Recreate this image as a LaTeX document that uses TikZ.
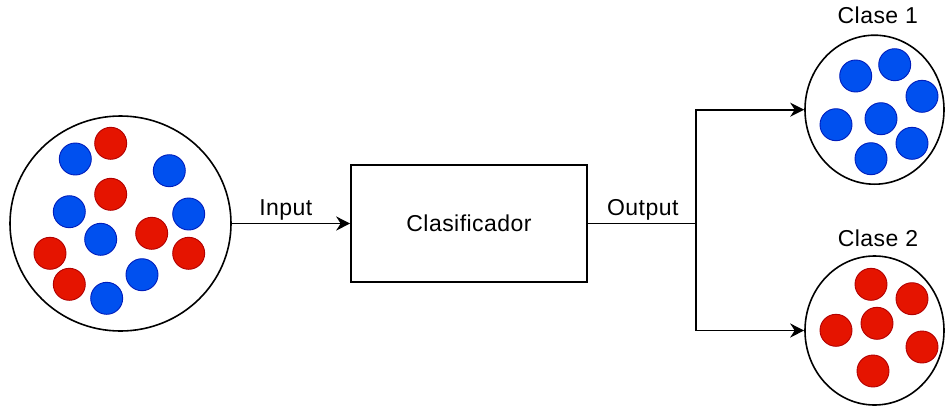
\documentclass[tikz,border=0pt]{standalone}
\usepackage{fontspec}
\setmainfont{Liberation Sans}[LetterSpace=2]
\usetikzlibrary{shapes.geometric,arrows.meta}

\definecolor{redfill}{HTML}{E51400}
\definecolor{redline}{HTML}{B20000}
\definecolor{bluefill}{HTML}{0050EF}
\definecolor{blueline}{HTML}{001DBC}

\begin{document}
\begin{tikzpicture}[x=1pt,y=-1pt,
  font=\fontsize{23}{27}\selectfont,
  pool/.style={draw=black,line width=1.6pt,ellipse,inner sep=0pt,fill=white},
  reddot/.style={circle,inner sep=0pt,minimum size=32pt,fill=redfill,draw=redline,line width=0.9pt},
  bluedot/.style={circle,inner sep=0pt,minimum size=32pt,fill=bluefill,draw=blueline,line width=0.9pt},
  stepbox/.style={draw=black,line width=1.6pt,rectangle,inner sep=0pt,minimum width=236pt,minimum height=117pt},
  link/.style={draw=black,line width=1.6pt},
  arrowlink/.style={link,-{Stealth[length=14pt,width=14pt,inset=4.5pt]}},
  lbl/.style={anchor=base,inner sep=0pt}
]
\useasboundingbox (0,0) rectangle (946,405);

% mixed input set
\node[pool,minimum width=221pt,minimum height=215pt] (pool) at (120.5,223.5) {};
\node[reddot]  (r1) at (110.7,143.3) {};
\node[reddot]  (r2) at (110.7,194.3) {};
\node[reddot]  (r3) at (151.7,233.3) {};
\node[reddot]  (r4) at (188.7,253.3) {};
\node[reddot]  (r5) at (50.0,253.3) {};
\node[reddot]  (r6) at (69.3,284.3) {};
\node[bluedot] (b1) at (75.3,159.0) {};
\node[bluedot] (b2) at (169.3,170.7) {};
\node[bluedot] (b3) at (69.3,211.7) {};
\node[bluedot] (b4) at (188.7,214.0) {};
\node[bluedot] (b5) at (100.7,239.3) {};
\node[bluedot] (b6) at (142.0,274.7) {};
\node[bluedot] (b7) at (106.7,298.3) {};

% classifier
\node[stepbox] (clf) at (469,223.5) {Clasificador};

% class 1
\node[pool,minimum width=139pt,minimum height=149pt] (c1) at (874.5,109.7) {};
\node[bluedot] (c1a) at (855.7,76.0) {};
\node[bluedot] (c1b) at (894.7,64.7) {};
\node[bluedot] (c1c) at (922.0,96.3) {};
\node[bluedot] (c1d) at (836.0,124.7) {};
\node[bluedot] (c1e) at (881.0,118.7) {};
\node[bluedot] (c1f) at (912.0,143.3) {};
\node[bluedot] (c1g) at (871.0,158.7) {};
\node[lbl] (t1) at (877.8,23.3) {Clase 1};

% class 2
\node[pool,minimum width=139pt,minimum height=149pt] (c2) at (874.5,330.5) {};
\node[reddot] (c2a) at (871.0,284.3) {};
\node[reddot] (c2b) at (912.0,298.7) {};
\node[reddot] (c2c) at (836.0,330.3) {};
\node[reddot] (c2d) at (877.0,323.3) {};
\node[reddot] (c2e) at (922.0,347.0) {};
\node[reddot] (c2f) at (873.0,371.0) {};
\node[lbl] (t2) at (878,246.7) {Clase 2};

% connectors
\coordinate (fork) at (696,223.5);
\draw[arrowlink] (pool.east) -- (clf.west);
\draw[link] (clf.east) -- (fork);
\draw[arrowlink] (fork) |- (c1.west);
\draw[arrowlink] (fork) |- (c2.west);

\node[lbl] (tin)  at (285.8,215) {Input};
\node[lbl] (tout) at (642.8,215) {Output};
\end{tikzpicture}
\end{document}
